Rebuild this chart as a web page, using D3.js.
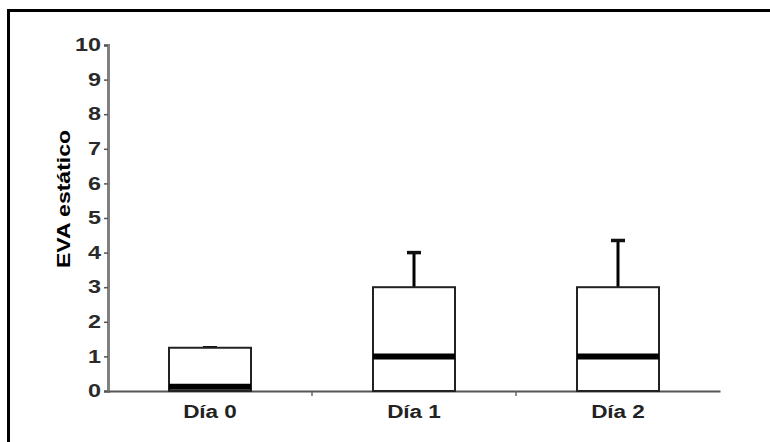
<!DOCTYPE html>
<html>
<head>
<meta charset="utf-8">
<script src="https://cdn.jsdelivr.net/npm/d3@7"></script>
<style>
  html, body { margin: 0; padding: 0; background: #fff; }
  text { font-family: "Liberation Sans", Arial, sans-serif; font-weight: bold; }
</style>
</head>
<body>
<div id="chart"></div>
<script>
const categories = ['Día 0', 'Día 1', 'Día 2'];
const lowerQuartile = [0, 0, 0];
const medians = [0.12, 1, 1];
const upperQuartile = [1.25, 3, 3];
const whiskerTop = [1.25, 4, 4.35];
const yTicks = [0, 1, 2, 3, 4, 5, 6, 7, 8, 9, 10];

const width = 770, height = 442;
const margin = { top: 45, left: 108, right: 50, bottom: 51 };
// the original scan has its lettering stretched sideways
const stretch = 1.25, labelStretch = 1.28, tickStretch = 1.3;

const svg = d3.select('#chart')
    .append('svg')
    .attr('width', width)
    .attr('height', height);

// outer frame (only top and left visible in the crop)
svg.append('path')
    .attr('d', `M8.5,${height} L8.5,10.5 L${width},10.5`)
    .attr('fill', 'none')
    .attr('stroke', '#000')
    .attr('stroke-width', 3);

const x = d3.scaleBand()
    .domain(categories)
    .range([margin.left, width - margin.right])
    .paddingInner(0)
    .paddingOuter(0);

const y = d3.scaleLinear()
    .domain([0, 10])
    .range([height - margin.bottom, margin.top]);

const boxW = 82;

// y axis
const yAxis = svg.append('g')
    .attr('transform', `translate(${margin.left},0)`)
    .call(d3.axisLeft(y).tickValues(yTicks).tickSize(4).tickPadding(3));
yAxis.select('.domain').attr('stroke', '#808080').attr('stroke-width', 3);
yAxis.selectAll('.tick line').attr('stroke', '#555').attr('stroke-width', 1.5);
yAxis.selectAll('.tick text')
    .attr('font-size', 18)
    .attr('fill', '#2a2a2a')
    .attr('x', -7 / tickStretch)
    .attr('transform', `scale(${tickStretch},1)`);

// x axis
const xAxis = svg.append('g')
    .attr('transform', `translate(0,${y(0)})`)
    .call(d3.axisBottom(x).tickSize(0).tickPadding(14));
xAxis.select('.domain').attr('stroke', '#555').attr('stroke-width', 1.8);
xAxis.selectAll('.tick text')
    .attr('font-size', 18)
    .attr('fill', '#222')
    .attr('transform', `scale(${stretch},1)`);

// small ticks between categories
svg.selectAll('.sep')
    .data(categories.slice(1))
    .enter().append('line')
    .attr('x1', d => x(d))
    .attr('x2', d => x(d))
    .attr('y1', y(0))
    .attr('y2', y(0) + 5)
    .attr('stroke', '#666')
    .attr('stroke-width', 1.5);

// y label
svg.append('text')
    .attr('transform', `translate(70,199) rotate(-90) scale(${labelStretch},1)`)
    .attr('text-anchor', 'middle')
    .attr('font-size', 18)
    .attr('fill', '#000')
    .text('EVA estático');

const cx = d => x(d) + x.bandwidth() / 2;

// whiskers
svg.selectAll('.whisker')
    .data(categories)
    .enter().append('line')
    .attr('x1', cx).attr('x2', cx)
    .attr('y1', (d, i) => y(upperQuartile[i]))
    .attr('y2', (d, i) => y(whiskerTop[i]))
    .attr('stroke', '#000')
    .attr('stroke-width', 3);

svg.selectAll('.cap')
    .data(categories)
    .enter().append('line')
    .attr('x1', d => cx(d) - 7).attr('x2', d => cx(d) + 7)
    .attr('y1', (d, i) => y(whiskerTop[i]))
    .attr('y2', (d, i) => y(whiskerTop[i]))
    .attr('stroke', '#111')
    .attr('stroke-width', 3.5);

// boxes
svg.selectAll('.box')
    .data(categories)
    .enter().append('rect')
    .attr('x', d => cx(d) - boxW / 2)
    .attr('width', boxW)
    .attr('y', (d, i) => y(upperQuartile[i]))
    .attr('height', (d, i) => y(lowerQuartile[i]) - y(upperQuartile[i]))
    .attr('fill', '#fff')
    .attr('stroke', '#222')
    .attr('stroke-width', 2);

// medians
svg.selectAll('.median')
    .data(categories)
    .enter().append('line')
    .attr('x1', d => cx(d) - boxW / 2).attr('x2', d => cx(d) + boxW / 2)
    .attr('y1', (d, i) => y(medians[i]))
    .attr('y2', (d, i) => y(medians[i]))
    .attr('stroke', '#000')
    .attr('stroke-width', 6);
</script>
</body>
</html>
